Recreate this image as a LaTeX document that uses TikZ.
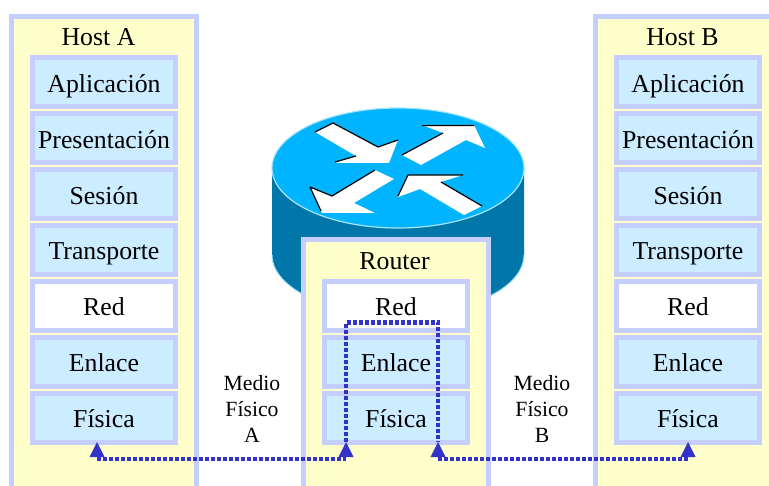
\documentclass[tikz,border=0pt]{standalone}
\usepackage{fontspec}
\setmainfont{Liberation Serif}
\definecolor{panelfill}{HTML}{FFFFCC}
\definecolor{edgeblue}{HTML}{C5CFFF}
\definecolor{cellblue}{HTML}{CCECFF}
\definecolor{linkblue}{HTML}{3333CC}
\definecolor{topblue}{HTML}{00B4FF}
\definecolor{sideblue}{HTML}{0077A8}
\definecolor{rimblue}{HTML}{A6E4FA}
\tikzset{
  layer/.style={draw=edgeblue,fill=cellblue,line width=5pt,minimum width=143pt,minimum height=49pt,inner sep=0pt,text height=20pt,text depth=0pt,font=\fontsize{25.8}{25.8}\selectfont},
  toplayer/.style={layer,text height=22pt},
  netlayer/.style={layer,fill=white},
  title/.style={inner sep=0pt,text height=18pt,text depth=0pt,font=\fontsize{25.8}{25.8}\selectfont},
  medium/.style={inner sep=0pt,align=center,font=\fontsize{21.7}{26}\selectfont},
  link/.style={draw=linkblue,line width=4.4pt,dash pattern=on 4pt off 2pt},
  whitearrow/.style={fill=white,draw=none},
  shade/.style={black,line width=1.2pt}
}
\begin{document}
\begin{tikzpicture}[x=1pt,y=-1pt]
\useasboundingbox (0,0) rectangle (769,486);
% panels
\fill[panelfill] (11.5,16.5) rectangle (196.5,486);
\draw[edgeblue,line width=5pt] (11.5,486) -- (11.5,16.5) -- (196.5,16.5) -- (196.5,486);
\fill[panelfill] (595.5,16.5) rectangle (769,486);
\draw[edgeblue,line width=5pt] (595.5,486) -- (595.5,16.5) -- (769,16.5);
% router
\fill[sideblue] (272,168) -- (272,255) arc[start angle=180,end angle=0,x radius=126,y radius=60] -- (524,168) -- cycle;
\draw[rimblue,line width=1pt] (272,255) arc[start angle=180,end angle=0,x radius=126,y radius=60];
\draw[fill=topblue,draw=rimblue,line width=1.2pt] (398,168) ellipse[x radius=126,y radius=60];
% arrows on the router
\fill[whitearrow] (315,132) -- (333,123) -- (378,147) -- (398,140) -- (389,163) -- (335,163) -- (356,156) -- cycle;
\draw[shade] (315,132) -- (333,123) -- (378,147) (398,140) -- (378,147) (335,162) -- (356,156);
\fill[whitearrow] (402,155) -- (443,133) -- (422,125) -- (474,125) -- (485,148) -- (466,140) -- (421,165) -- cycle;
\draw[shade] (402,155) -- (443,133) (422,125.500) -- (474,125.500);
\fill[whitearrow] (375,170) -- (394,179) -- (354,203) -- (375,213) -- (322,213) -- (310,187) -- (332,196) -- cycle;
\draw[shade] (310,187) -- (332,196) -- (375,170) (310,187) -- (321,211);
\fill[whitearrow] (408,175) -- (463,175) -- (441,182) -- (482,206) -- (464,215) -- (420,189) -- (398,197) -- cycle;
\draw[shade] (398,196) -- (408,175) -- (463,175) (441,182) -- (482,206);
\fill[panelfill] (303.500,239.500) rectangle (488.500,486);
\draw[edgeblue,line width=5pt] (303.500,486) -- (303.500,239.500) -- (488.500,239.500) -- (488.500,486);
% titles
\node[title] (hosta) at (98.500,37) {Host A};
\node[title] (hostb) at (682.500,37) {Host B};
\node[title] (router) at (394.500,261) {Router};
% host A
\node[toplayer] (a1) at (104,82) {Aplicación};
\node[toplayer] (a2) at (104,138) {Presentación};
\node[toplayer] (a3) at (104,194) {Sesión};
\node[layer] (a4) at (104,250) {Transporte};
\node[netlayer] (a5) at (104,306) {Red};
\node[layer] (a6) at (104,362) {Enlace};
\node[layer] (a7) at (104,418) {Física};
% host B
\node[toplayer] (b1) at (688,82) {Aplicación};
\node[toplayer] (b2) at (688,138) {Presentación};
\node[toplayer] (b3) at (688,194) {Sesión};
\node[layer] (b4) at (688,250) {Transporte};
\node[netlayer] (b5) at (688,306) {Red};
\node[layer] (b6) at (688,362) {Enlace};
\node[layer] (b7) at (688,418) {Física};
% router stack
\node[netlayer] (r5) at (396,306) {Red};
\node[layer] (r6) at (396,362) {Enlace};
\node[layer] (r7) at (396,418) {Física};
% media
\node[medium] (ma) at (252,409) {Medio\\Físico\\A};
\node[medium] (mb) at (542,409) {Medio\\Físico\\B};
% links
\coordinate (pa) at (97,442);
\coordinate (pr1) at (346,442);
\coordinate (pr2) at (438,442);
\coordinate (pb) at (688,442);
\draw[link] (pr2 |- 0,459) -- (pb |- 0,459);
\draw[link] (pa |- 0,459) -- (pr1 |- 0,459);
\draw[link] (pr1) -- (346,322.500) -- (438,322.500) -- (pr2);
\foreach \p in {pa,pr1,pr2,pb}{
  \fill[linkblue] (\p) -- ++(7.500,15) -- ++(-15,0) -- cycle;
}
\end{tikzpicture}
\end{document}
